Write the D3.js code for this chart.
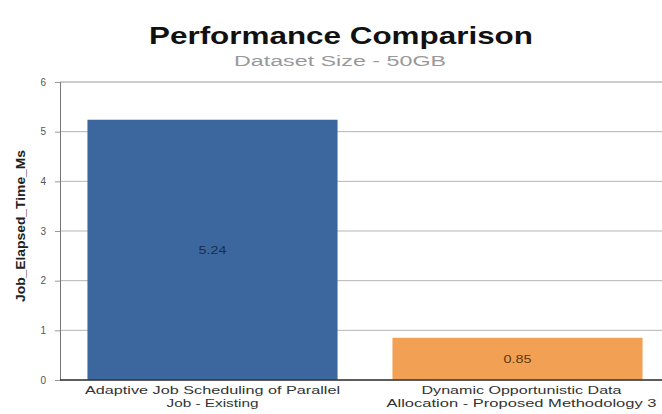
<!DOCTYPE html>
<html>
<head>
<meta charset="utf-8">
<script src="https://cdn.jsdelivr.net/npm/d3@7"></script>
<style>
  body { margin: 0; background: #fff; }
  text { font-family: "Liberation Sans", Arial, sans-serif; }
</style>
</head>
<body>
<script>
var categories = [
  ["Adaptive Job Scheduling of Parallel", "Job - Existing"],
  ["Dynamic Opportunistic Data", "Allocation - Proposed Methodology 3"]
];
var values = [5.24, 0.85];
var colors = ["#3b679e", "#f2a154"];
var yTicks = [0, 1, 2, 3, 4, 5, 6];

var W = 662, H = 414;
var mLeft = 60, mTop = 82, mBottom = 380;

var svg = d3.select("body").append("svg")
  .attr("width", W).attr("height", H);

var x = d3.scaleBand().domain(d3.range(values.length))
  .range([mLeft, 670]).paddingInner(0.18).paddingOuter(0.09);
var y = d3.scaleLinear().domain([0, 6]).range([mBottom, mTop]);

// the reference text is stretched sideways, so widen each text to fit
function stretch(sel, len) {
  sel.attr("textLength", len).attr("lengthAdjust", "spacingAndGlyphs");
}

// gridlines
svg.append("g").selectAll("line").data(yTicks).enter().append("line")
  .attr("x1", mLeft).attr("x2", W)
  .attr("y1", function (d) { return y(d); })
  .attr("y2", function (d) { return y(d); })
  .attr("stroke", function (d) { return d === 6 ? "#999" : "#b5b5b5"; })
  .attr("stroke-width", 1);

// bars
svg.append("g").selectAll("rect").data(values).enter().append("rect")
  .attr("x", function (d, i) { return x(i); })
  .attr("y", function (d) { return y(d); })
  .attr("width", x.bandwidth())
  .attr("height", function (d) { return mBottom - y(d); })
  .attr("fill", function (d, i) { return colors[i]; });

// value labels
svg.append("g").selectAll("text").data(values).enter().append("text")
  .attr("x", function (d, i) { return x(i) + x.bandwidth() / 2; })
  .attr("y", function (d) { return (y(d) + mBottom) / 2 + 4; })
  .attr("text-anchor", "middle")
  .attr("font-size", 11)
  .attr("fill", function (d, i) { return i === 0 ? "#1a2e4a" : "#5a3a10"; })
  .text(function (d) { return d.toFixed(2); })
  .call(stretch, 28);

// y axis
var yAxis = svg.append("g").attr("transform", "translate(" + mLeft + ",0)")
  .call(d3.axisLeft(y).tickValues(yTicks).tickFormat(d3.format("d"))
    .tickSize(5).tickPadding(9));
yAxis.select(".domain").attr("stroke", "#777");
yAxis.selectAll(".tick line").attr("stroke", "#999");
yAxis.selectAll(".tick text").attr("fill", "#555").attr("font-size", 10)
  .attr("font-family", "Liberation Sans, Arial, sans-serif");

// baseline
svg.append("line").attr("x1", mLeft).attr("x2", W)
  .attr("y1", mBottom).attr("y2", mBottom)
  .attr("stroke", "#333").attr("stroke-width", 1.5);

// category labels
var catLen = [[255, 92], [200, 270]];
var cat = svg.append("g").selectAll("text").data(categories).enter().append("text")
  .attr("text-anchor", "middle")
  .attr("font-size", 11)
  .attr("fill", "#333");
cat.each(function (d, i) {
  var t = d3.select(this);
  d.forEach(function (line, j) {
    t.append("tspan")
      .attr("x", x(i) + x.bandwidth() / 2 + (i === 1 ? 4 : 0))
      .attr("y", 394 + j * 13)
      .text(line)
      .call(stretch, catLen[i][j]);
  });
});

// axis title
svg.append("text")
  .attr("transform", "translate(25,226) rotate(-90)")
  .attr("text-anchor", "middle")
  .attr("font-size", 12).attr("font-weight", "bold")
  .attr("fill", "#222")
  .text("Job_Elapsed_Time_Ms")
  .call(stretch, 152);

// titles
svg.append("text").attr("x", 341).attr("y", 44)
  .attr("text-anchor", "middle")
  .attr("font-size", 24).attr("font-weight", "bold")
  .attr("fill", "#111")
  .text("Performance Comparison")
  .call(stretch, 384);
svg.append("text").attr("x", 340).attr("y", 66)
  .attr("text-anchor", "middle")
  .attr("font-size", 14)
  .attr("fill", "#999")
  .text("Dataset Size - 50GB")
  .call(stretch, 212);
</script>
</body>
</html>
